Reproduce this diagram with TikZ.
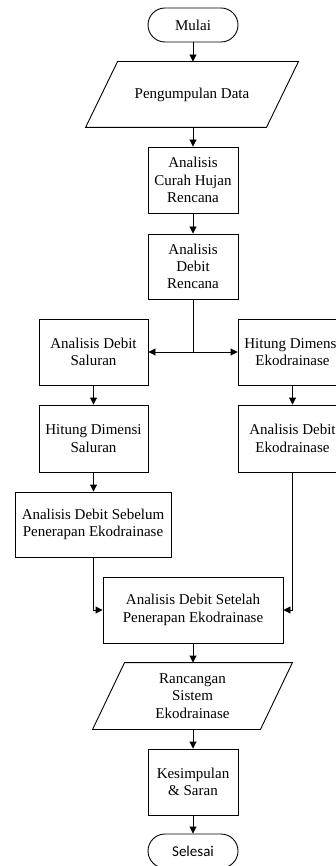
\documentclass[tikz,border=0pt]{standalone}
\usepackage{fontspec}
\setmainfont{Liberation Serif}
\newfontfamily\selfont{Carlito}
\usetikzlibrary{arrows.meta,calc}
\begin{document}
\begin{tikzpicture}[x=1pt,y=-1pt,
  every node/.style={font=\fontsize{15}{17.3}\selectfont, align=center, inner sep=0pt, line width=0.9pt},
  box/.style={draw, rectangle, minimum width=#1, minimum height=66},
  term/.style={draw, rectangle, rounded corners=17, minimum width=90, minimum height=34},
  para/.style={rectangle, minimum width=#1, minimum height=66},
  conn/.style={line width=0.9pt, -{Triangle[length=7pt,width=7pt]}},
  plain/.style={line width=0.9pt}]
\useasboundingbox (0,0) rectangle (336,866);
\begin{scope}
\clip (0,0) rectangle (336,866);
\node[term] (mulai) at (193,25) {Mulai};
\node[para=212, minimum height=65] (pd) at (192,94.5) {Pengumpulan Data};
\draw[plain] ([xshift=32]pd.north west) -- (pd.north east) -- ([xshift=-32]pd.south east) -- (pd.south west) -- cycle;
\node[box=90] (ch) at (193,180) {Analisis\\Curah Hujan\\Rencana};
\node[box=90, minimum height=65] (dr) at (193,266.5) {Analisis\\Debit\\Rencana};
\node[box=109] (ads) at (93.5,352) {Analisis Debit\\Saluran};
\node[box=109] (hde) at (292.5,352) {Hitung Dimensi\\Ekodrainase};
\node[box=109, minimum height=67] (hds) at (93.5,438.5) {Hitung Dimensi\\Saluran};
\node[box=109, minimum height=67] (ade) at (292.5,438.5) {Analisis Debit\\Ekodrainase};
\node[box=156, minimum height=65] (seb) at (93,524.5) {Analisis Debit Sebelum\\Penerapan Ekodrainase};
\node[box=180] (set) at (193,610) {Analisis Debit Setelah\\Penerapan Ekodrainase};
\node[para=199] (rs) at (192.5,696) {Rancangan\\Sistem\\Ekodrainase};
\draw[plain] ([xshift=32]rs.north west) -- (rs.north east) -- ([xshift=-32]rs.south east) -- (rs.south west) -- cycle;
\node[box=90] (ks) at (193,782) {Kesimpulan\\\& Saran};
\node[term, font=\selfont\fontsize{15}{17.3}\selectfont] (sel) at (193,851) {Selesai};
\coordinate (j) at (193,352);
\draw[conn] (mulai.south) -- (mulai.south |- pd.north);
\draw[conn] (pd.south -| ch.north) -- (ch.north);
\draw[conn] (ch.south) -- (dr.north);
\draw[plain] (dr.south) -- (j);
\draw[conn] (j) -- (ads.east);
\draw[conn] (j) -- (hde.west);
\draw[conn] (ads.south) -- (hds.north);
\draw[conn] (hde.south) -- (ade.north);
\draw[conn] (hds.south) -- (hds.south |- seb.north);
\draw[conn] (seb.south) |- (set.west);
\draw[conn] (ade.south) |- (set.east);
\draw[conn] (set.south) -- (set.south |- rs.north);
\draw[conn] (rs.south -| ks.north) -- (ks.north);
\draw[conn] (ks.south) -- (sel.north);
\end{scope}
\end{tikzpicture}
\end{document}
